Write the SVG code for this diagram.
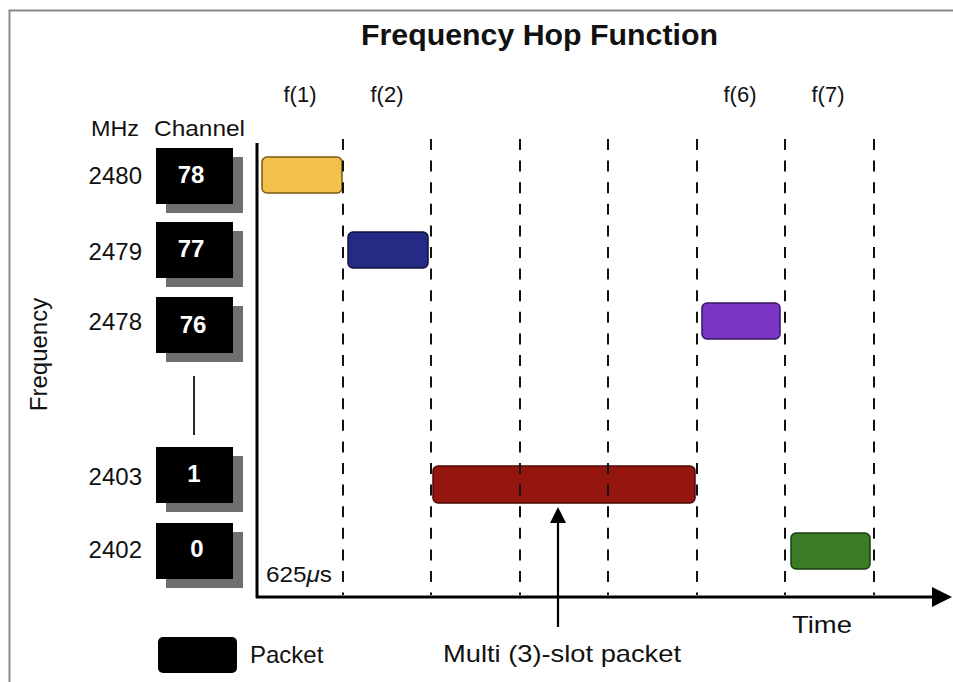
<svg xmlns="http://www.w3.org/2000/svg" width="953" height="682" viewBox="0 0 953 682">
<defs>
<style>
text{font-family:"Liberation Sans",Arial,Helvetica,sans-serif;fill:#111}
.title{font-size:29px;font-weight:bold}
.lbl{font-size:22px}
.num{font-size:24px}
.ch{font-size:24px;font-weight:bold;fill:#fff}
.box{fill:#000}
.shadow{fill:#6f6f6f}
.dash{stroke:#111;stroke-width:2;stroke-dasharray:11 10.6;fill:none}
.pkt{stroke-width:1.5;stroke-linejoin:round}
</style>
</defs>
<rect width="953" height="682" fill="#fff"/>
<path d="M9.5,682 V10.5 H953" fill="none" stroke="#8a8a8a" stroke-width="2"/>
<text class="title" x="539.5" y="45" text-anchor="middle" textLength="357" lengthAdjust="spacingAndGlyphs">Frequency Hop Function</text>

<g id="slot-labels">
<text class="lbl" x="300" y="102" text-anchor="middle">f(1)</text>
<text class="lbl" x="387" y="102" text-anchor="middle">f(2)</text>
<text class="lbl" x="740" y="102" text-anchor="middle">f(6)</text>
<text class="lbl" x="828" y="102" text-anchor="middle">f(7)</text>
</g>

<g id="headers">
<text class="lbl" x="91" y="136" textLength="48" lengthAdjust="spacingAndGlyphs">MHz</text>
<text class="lbl" x="154" y="136" textLength="91" lengthAdjust="spacingAndGlyphs">Channel</text>
<text class="num" transform="translate(47,354.5) rotate(-90)" text-anchor="middle">Frequency</text>
</g>

<g id="ch78">
<text class="num" x="142" y="184" text-anchor="end">2480</text>
<rect class="shadow" x="166" y="157" width="77" height="56"/>
<rect class="box" x="156" y="148" width="77" height="56"/>
<text class="ch" x="191" y="183" text-anchor="middle">78</text>
</g>
<g id="ch77">
<text class="num" x="142" y="260" text-anchor="end">2479</text>
<rect class="shadow" x="166" y="231" width="77" height="56"/>
<rect class="box" x="156" y="222" width="77" height="56"/>
<text class="ch" x="191" y="257" text-anchor="middle">77</text>
</g>
<g id="ch76">
<text class="num" x="142" y="330" text-anchor="end">2478</text>
<rect class="shadow" x="166" y="306" width="77" height="56"/>
<rect class="box" x="156" y="297" width="77" height="56"/>
<text class="ch" x="193" y="333" text-anchor="middle">76</text>
</g>
<g id="ch1">
<text class="num" x="142" y="485" text-anchor="end">2403</text>
<rect class="shadow" x="166" y="456" width="77" height="56"/>
<rect class="box" x="156" y="447" width="77" height="56"/>
<text class="ch" x="194" y="482" text-anchor="middle">1</text>
</g>
<g id="ch0">
<text class="num" x="142" y="558" text-anchor="end">2402</text>
<rect class="shadow" x="166" y="532" width="77" height="56"/>
<rect class="box" x="156" y="523" width="77" height="56"/>
<text class="ch" x="197" y="557" text-anchor="middle">0</text>
</g>

<g id="packets">
<rect class="pkt" x="262" y="157" width="80" height="36" rx="5" fill="#F3C14B" stroke="#7a5a12"/>
<rect class="pkt" x="348" y="232" width="80" height="36" rx="5" fill="#242B84" stroke="#10153f"/>
<rect class="pkt" x="702" y="303" width="78" height="36" rx="5" fill="#7C36C6" stroke="#3a1562"/>
<rect class="pkt" x="433" y="466" width="262" height="37" rx="5" fill="#95160E" stroke="#4a0a06"/>
<rect class="pkt" x="791" y="533" width="79" height="36" rx="5" fill="#3A7C23" stroke="#1b3c10"/>
</g>

<g id="connectors">
<line x1="194" y1="376" x2="194" y2="435" stroke="#111" stroke-width="1.8"/>
<line class="dash" x1="343" y1="139" x2="343" y2="595"/>
<line class="dash" x1="431" y1="139" x2="431" y2="595"/>
<line class="dash" x1="520" y1="139" x2="520" y2="595"/>
<line class="dash" x1="608" y1="139" x2="608" y2="595"/>
<line class="dash" x1="697" y1="139" x2="697" y2="595"/>
<line class="dash" x1="785" y1="139" x2="785" y2="595"/>
<line class="dash" x1="874" y1="139" x2="874" y2="595"/>
<line x1="257" y1="143" x2="257" y2="598" stroke="#000" stroke-width="3"/>
<line x1="256" y1="597" x2="935" y2="597" stroke="#000" stroke-width="3"/>
<polygon points="932,587 952,597 932,607" fill="#000"/>
<line x1="558" y1="627" x2="558" y2="520" stroke="#000" stroke-width="2.2"/>
<polygon points="550,523 558,507 566,523" fill="#000"/>
</g>

<g id="annotations">
<text class="lbl" x="266" y="582" textLength="66" lengthAdjust="spacingAndGlyphs">625<tspan font-style="italic">μ</tspan>s</text>
<text class="num" x="792" y="633" font-size="26" textLength="60" lengthAdjust="spacingAndGlyphs">Time</text>
<text class="num" x="443" y="662" textLength="238" lengthAdjust="spacingAndGlyphs">Multi (3)-slot packet</text>
</g>

<g id="legend">
<rect x="158" y="637" width="79" height="36" rx="5" fill="#000"/>
<text class="num" x="250" y="663">Packet</text>
</g>
</svg>
